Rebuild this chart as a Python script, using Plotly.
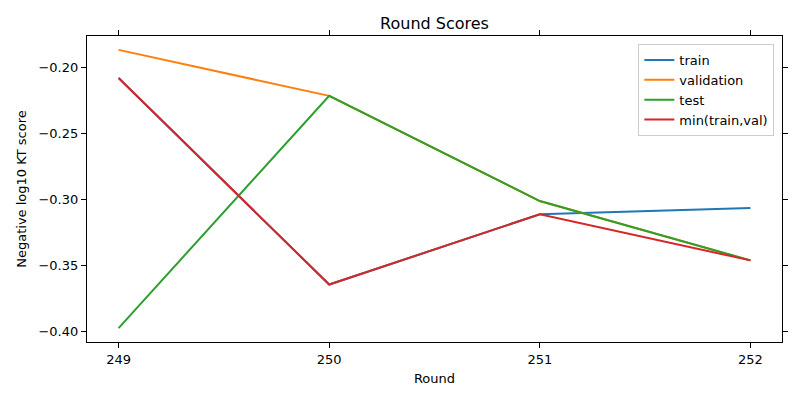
import plotly.graph_objects as go

# rounds on the x axis
rounds = [249, 250, 251, 252]

# scores
train = [-0.2081, -0.3645, -0.3113, -0.3066]
validation = [-0.1868, -0.2216, -0.3013, -0.3462]
test = [-0.3975, -0.2216, -0.3013, -0.3462]
min_train_val = [-0.2081, -0.3645, -0.3113, -0.3462]

series = [
    ("train", train, "#1f77b4"),
    ("validation", validation, "#ff7f0e"),
    ("test", test, "#2ca02c"),
    ("min(train,val)", min_train_val, "#d62728"),
]

fig = go.Figure()
for name, vals, color in series:
    fig.add_trace(go.Scatter(x=rounds, y=vals, mode="lines", name=name,
                             line=dict(color=color, width=2)))

# mirror="all" is what actually drew the top/right frame here
axis_style = dict(showline=True, linecolor="black", linewidth=1.2, mirror="all",
                  ticks="outside", ticklen=5, tickcolor="black", showgrid=False,
                  zeroline=False, tickfont=dict(size=13, color="black"))

fig.update_layout(
    width=800, height=400,
    font=dict(family="DejaVu Sans", color="black"),
    paper_bgcolor="white", plot_bgcolor="white",
    margin=dict(l=87, r=14, t=36, b=58),
    title=dict(text="Round Scores", x=0.5, xref="paper", y=1 - 23 / 400,
               yref="container", yanchor="middle", font=dict(size=16)),
    xaxis=dict(title=dict(text="Round", font=dict(size=13), standoff=8),
               range=[248.85, 252.15], tickvals=rounds, **axis_style),
    yaxis=dict(title=dict(text="Negative log10 KT score", font=dict(size=13), standoff=8),
               range=[-0.408, -0.1763], tickvals=[-0.40, -0.35, -0.30, -0.25, -0.20],
               tickformat=".2f", **axis_style),
    legend=dict(x=0.989, y=0.974, xanchor="right", yanchor="top",
                bordercolor="#cccccc", borderwidth=1, bgcolor="white",
                font=dict(size=13)),
)

# drop the default page margin so the figure sits at the window's corner
fig.write_html("out.html", config={"displayModeBar": False},
               post_script="document.body.style.margin='0';")
